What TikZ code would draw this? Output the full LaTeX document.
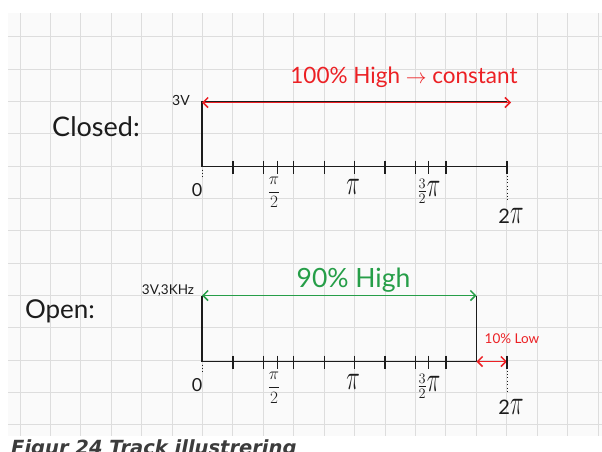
\documentclass[tikz,border=0pt]{standalone}
\usepackage{fontspec}
\setmainfont{Lato}
\newfontfamily\capfont{DejaVu Sans}
\usetikzlibrary{arrows.meta}
\definecolor{penred}{RGB}{236,32,36}
\definecolor{pengreen}{RGB}{38,158,72}
\definecolor{pencil}{RGB}{28,28,28}
\definecolor{gridline}{RGB}{221,221,221}
\definecolor{paper}{RGB}{250,250,250}
\definecolor{capgray}{RGB}{60,60,60}
\newcommand{\tallpi}{\scalebox{1.1}[1.7]{$\pi$}}

\begin{document}
\begin{tikzpicture}[x=1pt,y=-1pt,>={Straight Barb[length=5pt,width=10pt]},
  sig/.style={pencil,line width=1.8pt},
  tickmark/.style={pencil,line width=1.3pt},
  dots/.style={pencil,line width=1pt,dash pattern=on 1pt off 2.4pt},
  hand/.style={inner sep=0pt,text=pencil},
  lbl/.style={hand,font=\fontsize{16}{17}\selectfont},
  pilbl/.style={hand,font=\fontsize{20}{22}\selectfont}]
  \useasboundingbox (0,0) rectangle (602,451);
  \clip (0,0) rectangle (602,451);
  \fill[white] (0,0) rectangle (602,451);
  \fill[paper] (8,13) rectangle (602,436);
  \foreach \k in {0,...,19}
    \draw[gridline,line width=0.9pt] ({20+30.42*\k},13) -- ({20+30.42*\k},436);
  \foreach \k in {0,...,12}
    \draw[gridline,line width=0.9pt] (8,{36.7+32.35*\k}) -- (602,{36.7+32.35*\k});

  % closed switch
  \coordinate (c0) at (202,166.5);
  \coordinate (cH) at (202,101.5);
  \coordinate (cHR) at (507,101.5);
  \coordinate (cEnd) at (507,166.5);
  \coordinate (cArr) at (511,101.5);
  \draw[sig] (cHR) -- (cH) -- (c0) -- (cEnd);
  \draw[<->,penred,line width=1.5pt] ([yshift=-1pt]cH) -- ([yshift=-1pt]cArr);
  \node[hand,font=\fontsize{27}{30}\selectfont] (closed) at (96,127) {Closed:};
  \node[hand,font=\fontsize{14}{15}\selectfont] (cvolt) at (181,100) {3V};
  \node[hand,text=penred,font=\fontsize{22.5}{24}\selectfont] (chigh) at (404,77)
       {100\% High $\rightarrow$ constant};

  % open switch
  \coordinate (o0) at (202,361.5);
  \coordinate (oH) at (202,295.5);
  \coordinate (oHR) at (476.5,295.5);
  \coordinate (oFall) at (476.5,361.5);
  \coordinate (oEnd) at (507,361.5);
  \draw[sig] (oH) -- (o0) -- (oFall) -- (oHR);
  \draw[<->,pengreen,line width=1.5pt] (oH) -- (oHR);
  \draw[<->,penred,line width=1.5pt] (oFall) -- (oEnd);
  \node[hand,font=\fontsize{26}{29}\selectfont] (open) at (60,311) {Open:};
  \node[hand,font=\fontsize{13.5}{14}\selectfont] (ovolt) at (168,291) {3V,3KHz};
  \node[hand,text=pengreen,font=\fontsize{26.5}{28}\selectfont] (ohigh) at (353.5,280) {90\% High};
  \node[hand,text=penred,font=\fontsize{13.5}{14}\selectfont] (olow) at (512,339) {10\% Low};

  % time axes
  \foreach \yb/\ys in {166.5/49.5,361.5/45.5}{
    \foreach \tx in {233,263.4,293.8,324.2,354.6,385,415.5,445.9,277.5,428.5}
      \draw[tickmark] (\tx,\yb-6) -- (\tx,\yb+7);
    \draw[tickmark] (507,\yb-6) -- (507,\yb+7);
    \draw[dots] (202,\yb+3) -- (202,\yb+13);
    \draw[dots] (507,\yb+9) -- (507,\yb+\ys-14);
    \node[lbl,font=\fontsize{18}{19}\selectfont] at (197,\yb+24) {0};
    \node[lbl] at (274,\yb+26) {$\displaystyle\frac{\pi}{2}$};
    \node[pilbl] at (353,\yb+20) {\tallpi};
    \node[pilbl] at (429,\yb+25) {$\frac{3}{2}$\tallpi};
    \node[pilbl] at (511,\yb+\ys) {2\tallpi};
  }

  \node[anchor=base west,inner sep=0pt,text=capgray,
        font=\capfont\bfseries\itshape\fontsize{19.5}{21}\selectfont] (caption) at (11,454.3)
       {Figur 24 Track illustrering};
\end{tikzpicture}
\end{document}
